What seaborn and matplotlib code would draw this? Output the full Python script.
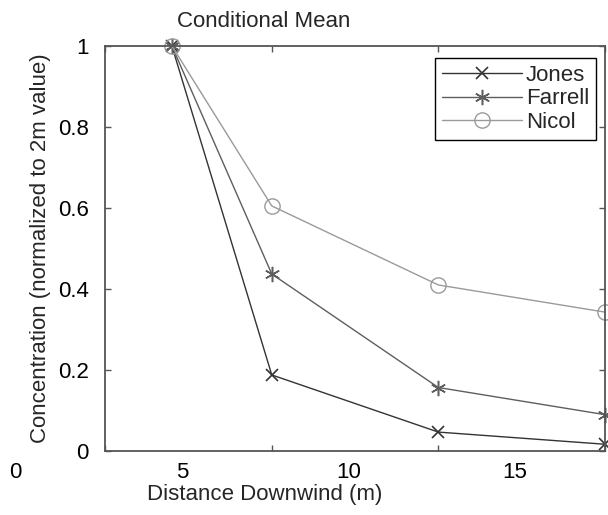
import matplotlib
matplotlib.use("Agg")
import matplotlib.pyplot as plt
from matplotlib.transforms import ScaledTranslation
import seaborn as sns
import pandas as pd

# values
distance = [2, 5, 10, 15]
jones = [1.0, 0.188, 0.047, 0.017]
farrell = [1.0, 0.437, 0.157, 0.09]
nicol = [1.0, 0.605, 0.41, 0.343]

xticks = [0, 5, 10, 15]
xtick_labels = ['0', '5', '10', '15']
yticks = [0, 0.2, 0.4, 0.6, 0.8, 1.0]
ytick_labels = ['0', '0.2', '0.4', '0.6', '0.8', '1']

sns.set_style("ticks")
plt.rcParams['font.family'] = ['Liberation Sans', 'DejaVu Sans']

df = pd.DataFrame({'Distance': distance, 'Jones': jones,
                   'Farrell': farrell, 'Nicol': nicol})

fig = plt.figure(figsize=(6.08, 5.15), dpi=100)
ax = fig.add_axes([0.173, 0.124, 0.822, 0.787])

styles = {
    'Jones': dict(color='#333333', marker='x', ms=8, mew=1.2),
    'Farrell': dict(color='#5e5e5e', marker=(6, 2, 0), ms=11, mew=1.1),
    'Nicol': dict(color='#9a9a9a', marker='o', ms=11, mew=1.0, mfc='none'),
}
for name in ['Jones', 'Farrell', 'Nicol']:
    st = styles[name]
    sns.lineplot(data=df, x='Distance', y=name, ax=ax, label=name,
                 color=st['color'], marker=st['marker'], markersize=st['ms'],
                 markeredgewidth=st['mew'], markeredgecolor=st['color'],
                 markerfacecolor=st.get('mfc', st['color']),
                 linewidth=1.0, clip_on=False)

ax.set_xlim(0, 15)
ax.set_ylim(0, 1)
ax.set_xticks(xticks)
ax.set_xticklabels(xtick_labels)
ax.set_yticks(yticks)
ax.set_yticklabels(ytick_labels)
ax.tick_params(direction='in', length=4, width=1, top=True, right=True,
               labelsize=16, colors='#555555', labelcolor='black')
ax.tick_params(axis='y', pad=12)
ax.tick_params(axis='x', pad=8)
for sp in ax.spines.values():
    sp.set_color('#555555')
    sp.set_linewidth(1.3)

# the x texts in the reference sit about 90 px left of their ticks
shift = ScaledTranslation(-0.9, 0, fig.dpi_scale_trans)
for lab in ax.get_xticklabels():
    lab.set_transform(lab.get_transform() + shift)

ax.set_xlabel('Distance Downwind (m)', fontsize=16)
ax.xaxis.set_label_coords(0.32, -0.08)
ax.set_ylabel('Concentration (normalized to 2m value)', fontsize=16)
ax.yaxis.set_label_coords(-0.108, 0.5)
ax.set_title('Conditional Mean', fontsize=16, x=0.318, y=1.047, pad=0)

leg = ax.legend(loc='upper right', bbox_to_anchor=(0.982, 0.970),
                borderaxespad=0, fontsize=16, handlelength=3.6,
                handletextpad=0.2, labelspacing=0.12, fancybox=False,
                edgecolor='black', framealpha=1, borderpad=0.3)
leg.get_frame().set_linewidth(1.0)

fig.savefig('out.png', dpi=100)
